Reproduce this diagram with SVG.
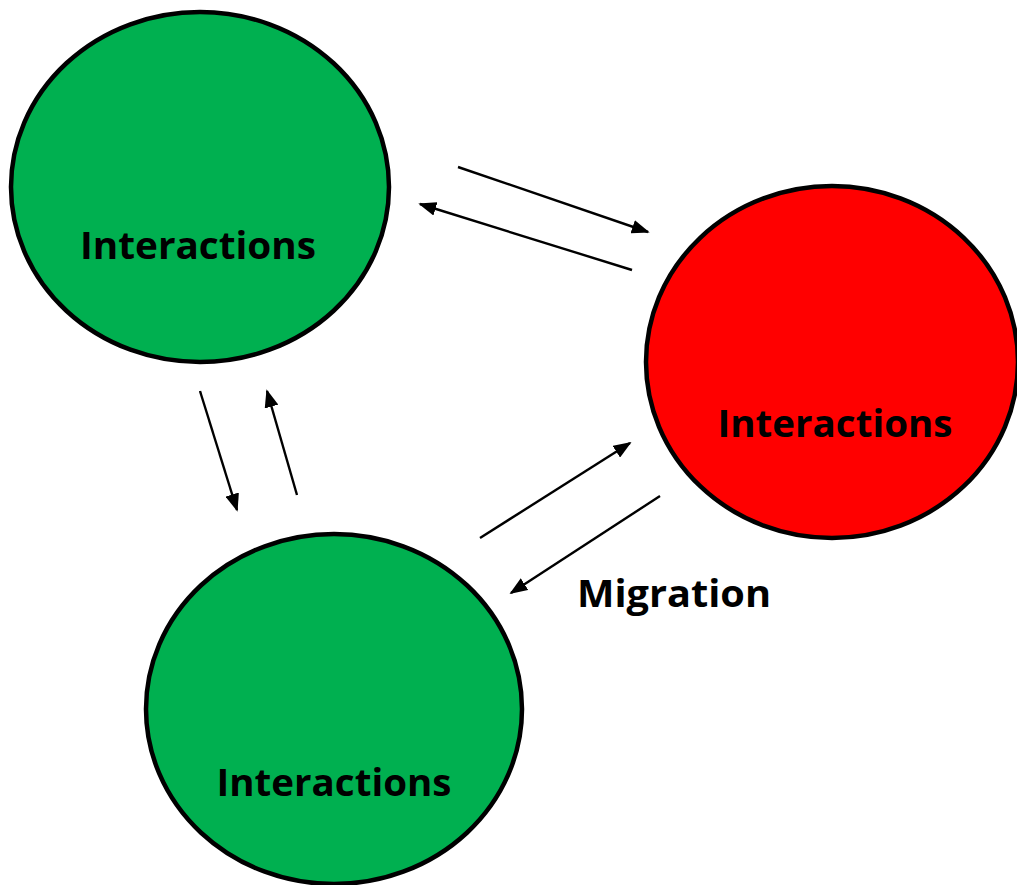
<svg xmlns="http://www.w3.org/2000/svg" width="1017" height="885" viewBox="0 0 1017 885">
<style>
.node{stroke:#000;stroke-width:4.5}
.green{fill:#00B050}
.red{fill:#FF0000}
.lbl{font-family:"Open Sans","Liberation Sans",Arial,sans-serif;font-weight:bold;font-size:38px;fill:#000}
.arr{stroke:#000;stroke-width:2.4;fill:none;marker-end:url(#ah)}
</style>
<defs>
<marker id="ah" viewBox="0 0 10 10" refX="9" refY="5" markerWidth="18" markerHeight="14" markerUnits="userSpaceOnUse" orient="auto" preserveAspectRatio="none">
<path d="M0,0 L10,5 L0,10 z" fill="#000"/>
</marker>
</defs>
<rect width="1017" height="885" fill="#fff"/>
<g id="node-top-left">
<ellipse class="node green" cx="200" cy="187" rx="189" ry="175"/>
<text class="lbl" x="198" y="259" text-anchor="middle" textLength="236" lengthAdjust="spacingAndGlyphs">Interactions</text>
</g>
<g id="node-right">
<ellipse class="node red" cx="832" cy="362" rx="186" ry="176"/>
<text class="lbl" x="835" y="437" text-anchor="middle" textLength="235" lengthAdjust="spacingAndGlyphs">Interactions</text>
</g>
<g id="node-bottom">
<ellipse class="node green" cx="334" cy="709" rx="188" ry="175"/>
<text class="lbl" x="334" y="796" text-anchor="middle" textLength="235" lengthAdjust="spacingAndGlyphs">Interactions</text>
</g>
<g id="connectors">
<line class="arr" x1="458" y1="167" x2="648" y2="232"/>
<line class="arr" x1="632" y1="270" x2="420" y2="204"/>
<line class="arr" x1="200" y1="391" x2="237" y2="510"/>
<line class="arr" x1="297" y1="495" x2="267" y2="391"/>
<line class="arr" x1="480" y1="538" x2="630" y2="443"/>
<line class="arr" x1="660" y1="496" x2="511" y2="593"/>
<text class="lbl" x="577" y="607" textLength="194" lengthAdjust="spacingAndGlyphs">Migration</text>
</g>
</svg>
